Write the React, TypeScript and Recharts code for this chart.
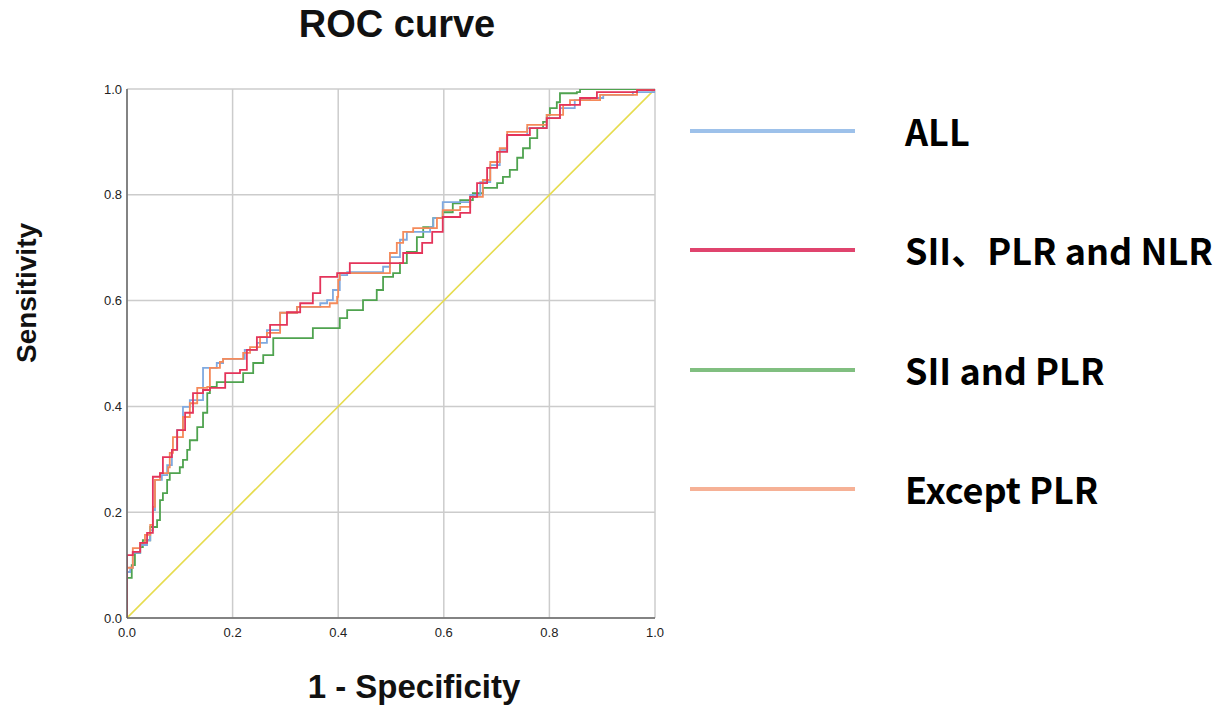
import React from "react";
import { LineChart, Line, XAxis, YAxis, CartesianGrid } from "recharts";

// ROC points: false positive rate / true positive rate
const allFpr = [0, 0, 0.006, 0.011, 0.025, 0.038, 0.044, 0.049, 0.053, 0.066, 0.076, 0.085, 0.095, 0.106, 0.119, 0.144, 0.17, 0.182, 0.214, 0.223, 0.246, 0.265, 0.29, 0.322, 0.366, 0.379, 0.39, 0.403, 0.417, 0.479, 0.485, 0.498, 0.517, 0.53, 0.574, 0.58, 0.598, 0.625, 0.65, 0.669, 0.688, 0.706, 0.72, 0.758, 0.795, 0.82, 0.848, 0.877, 0.902, 0.958, 1];
const allTpr = [0, 0.087, 0.095, 0.123, 0.138, 0.147, 0.166, 0.204, 0.261, 0.27, 0.289, 0.318, 0.355, 0.399, 0.412, 0.473, 0.482, 0.49, 0.49, 0.507, 0.52, 0.544, 0.577, 0.588, 0.595, 0.601, 0.62, 0.648, 0.654, 0.654, 0.664, 0.682, 0.715, 0.73, 0.739, 0.756, 0.786, 0.786, 0.8, 0.824, 0.856, 0.885, 0.913, 0.926, 0.945, 0.964, 0.979, 0.983, 0.989, 0.994, 1];

const siiPlrNlrFpr = [0, 0, 0.011, 0.025, 0.038, 0.049, 0.049, 0.0625, 0.068, 0.085, 0.095, 0.11, 0.125, 0.144, 0.157, 0.186, 0.214, 0.227, 0.246, 0.271, 0.303, 0.328, 0.352, 0.366, 0.398, 0.422, 0.498, 0.523, 0.559, 0.578, 0.598, 0.631, 0.65, 0.663, 0.682, 0.701, 0.72, 0.763, 0.795, 0.82, 0.858, 0.89, 0.966, 1];
const siiPlrNlrTpr = [0, 0.119, 0.125, 0.142, 0.161, 0.18, 0.267, 0.274, 0.304, 0.318, 0.355, 0.388, 0.425, 0.431, 0.435, 0.463, 0.469, 0.507, 0.531, 0.554, 0.578, 0.595, 0.614, 0.645, 0.652, 0.671, 0.671, 0.69, 0.709, 0.73, 0.758, 0.766, 0.796, 0.822, 0.851, 0.881, 0.913, 0.926, 0.945, 0.97, 0.983, 0.994, 0.998, 1];

const siiPlrFpr = [0, 0, 0.009, 0.015, 0.025, 0.03, 0.044, 0.057, 0.0625, 0.068, 0.076, 0.081, 0.1, 0.106, 0.114, 0.119, 0.133, 0.144, 0.152, 0.157, 0.17, 0.214, 0.22, 0.239, 0.258, 0.277, 0.277, 0.352, 0.352, 0.4, 0.403, 0.417, 0.447, 0.473, 0.485, 0.504, 0.517, 0.53, 0.549, 0.561, 0.58, 0.598, 0.617, 0.631, 0.655, 0.674, 0.701, 0.712, 0.725, 0.739, 0.75, 0.763, 0.777, 0.788, 0.795, 0.801, 0.814, 0.82, 0.852, 0.858, 1];
const siiPlrTpr = [0, 0.076, 0.1, 0.123, 0.134, 0.147, 0.172, 0.185, 0.223, 0.236, 0.261, 0.274, 0.285, 0.299, 0.318, 0.336, 0.361, 0.388, 0.425, 0.437, 0.446, 0.446, 0.463, 0.482, 0.497, 0.516, 0.529, 0.529, 0.548, 0.548, 0.567, 0.582, 0.601, 0.62, 0.645, 0.652, 0.671, 0.692, 0.72, 0.739, 0.756, 0.767, 0.784, 0.79, 0.803, 0.813, 0.822, 0.834, 0.847, 0.87, 0.888, 0.907, 0.926, 0.938, 0.951, 0.964, 0.975, 0.992, 0.994, 1, 1];

const exceptPlrFpr = [0, 0, 0.011, 0.025, 0.034, 0.044, 0.049, 0.053, 0.0625, 0.078, 0.081, 0.087, 0.106, 0.119, 0.133, 0.152, 0.157, 0.176, 0.182, 0.214, 0.22, 0.233, 0.252, 0.265, 0.29, 0.322, 0.384, 0.398, 0.4, 0.403, 0.485, 0.498, 0.511, 0.523, 0.542, 0.568, 0.587, 0.598, 0.631, 0.65, 0.674, 0.688, 0.706, 0.72, 0.758, 0.795, 0.826, 0.839, 0.896, 0.958, 0.966, 1];
const exceptPlrTpr = [0, 0.095, 0.132, 0.142, 0.157, 0.176, 0.21, 0.261, 0.274, 0.285, 0.312, 0.342, 0.38, 0.406, 0.435, 0.437, 0.473, 0.484, 0.49, 0.49, 0.501, 0.512, 0.531, 0.539, 0.577, 0.588, 0.595, 0.607, 0.639, 0.652, 0.652, 0.69, 0.709, 0.73, 0.737, 0.737, 0.756, 0.771, 0.777, 0.796, 0.828, 0.862, 0.888, 0.919, 0.932, 0.951, 0.97, 0.979, 0.989, 0.989, 0.998, 1];

const refFpr = [0, 1];
const refTpr = [0, 1];

const ticks = [0, 0.2, 0.4, 0.6, 0.8, 1.0];

const zip = (xs: number[], ys: number[]) => xs.map((x, i) => ({ fpr: x, tpr: ys[i] }));

const series = [
  { name: "ALL", data: zip(allFpr, allTpr), color: "#7fa9e0", legend: "#9dc1ea" },
  { name: "SII、PLR and NLR", data: zip(siiPlrNlrFpr, siiPlrNlrTpr), color: "#e4345a", legend: "#e0446e" },
  { name: "SII and PLR", data: zip(siiPlrFpr, siiPlrTpr), color: "#4fa34f", legend: "#80bf80" },
  { name: "Except PLR", data: zip(exceptPlrFpr, exceptPlrTpr), color: "#f58a5a", legend: "#f6b196" },
];

const legendY = [131, 250, 370, 489];

const App = () => {
  return (
    <div style={{ position: "absolute", left: 0, top: 0, width: 1227, height: 706, background: "#fff" }}>
      <div
        style={{
          position: "absolute",
          left: 247,
          width: 300,
          top: 3,
          textAlign: "center",
          fontFamily: "Liberation Sans, Arial, sans-serif",
          fontWeight: "bold",
          fontSize: 38,
          color: "#111",
        }}
      >
        ROC curve
      </div>
      <div
        style={{
          position: "absolute",
          left: 27,
          top: 293,
          transform: "translate(-50%, -50%) rotate(-90deg)",
          fontFamily: "Liberation Sans, Arial, sans-serif",
          fontWeight: "bold",
          fontSize: 28,
          color: "#111",
          whiteSpace: "nowrap",
        }}
      >
        Sensitivity
      </div>
      <div
        style={{
          position: "absolute",
          left: 264,
          width: 300,
          top: 668,
          textAlign: "center",
          fontFamily: "Liberation Sans, Arial, sans-serif",
          fontWeight: "bold",
          fontSize: 33,
          color: "#111",
        }}
      >
        1 - Specificity
      </div>
      <div style={{ position: "absolute", left: 0, top: 0 }}>
        <LineChart width={700} height={706} margin={{ top: 89, right: 45, bottom: 58, left: 87 }}>
          <CartesianGrid stroke="#cccccc" strokeWidth={1.5} verticalValues={ticks} horizontalValues={ticks} />
          <XAxis
            type="number"
            dataKey="fpr"
            domain={[0, 1]}
            ticks={ticks}
            tickFormatter={(v: number) => v.toFixed(1)}
            tick={{ fontSize: 13, fill: "#222", fontFamily: "Liberation Sans, Arial, sans-serif" }}
            tickLine={false}
            tickSize={2}
            tickMargin={8}
            stroke="#666"
            strokeWidth={1.5}
            height={30}
            allowDataOverflow
          />
          <YAxis
            type="number"
            dataKey="tpr"
            domain={[0, 1]}
            ticks={ticks}
            tickFormatter={(v: number) => v.toFixed(1)}
            tick={{ fontSize: 13, fill: "#222", fontFamily: "Liberation Sans, Arial, sans-serif" }}
            tickLine={false}
            tickSize={2}
            tickMargin={3}
            stroke="#666"
            strokeWidth={1.5}
            width={40}
            allowDataOverflow
          />
          <Line
            data={zip(refFpr, refTpr)}
            dataKey="tpr"
            type="linear"
            stroke="#e6dc4e"
            strokeWidth={1.6}
            dot={false}
            isAnimationActive={false}
          />
          {[2, 0, 3, 1].map((i) => (
            <Line
              key={series[i].name}
              data={series[i].data}
              dataKey="tpr"
              name={series[i].name}
              type="stepAfter"
              stroke={series[i].color}
              strokeWidth={1.8}
              dot={false}
              isAnimationActive={false}
            />
          ))}
        </LineChart>
      </div>
      {series.map((s, i) => (
        <div key={s.name}>
          <div
            style={{
              position: "absolute",
              left: 690,
              top: legendY[i] - 2,
              width: 165,
              height: 4,
              background: s.legend,
            }}
          />
          <div
            style={{
              position: "absolute",
              left: 905,
              top: legendY[i] - 27,
              fontFamily: "Noto Sans CJK SC, Noto Sans, sans-serif",
              fontWeight: "bold",
              fontSize: 36,
              lineHeight: "52px",
              color: "#000",
              whiteSpace: "nowrap",
            }}
          >
            {s.name}
          </div>
        </div>
      ))}
    </div>
  );
};

export default App;
